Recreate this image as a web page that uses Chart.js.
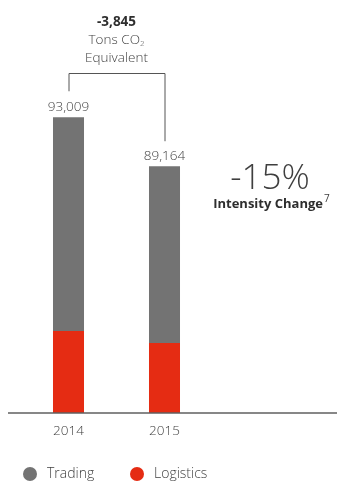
<!DOCTYPE html>
<html>
<head>
<meta charset="utf-8">
<script src="https://cdn.jsdelivr.net/npm/chart.js@4"></script>
<style>
  body { margin: 0; background: #fff; }
  canvas { display: block; }
</style>
</head>
<body>
<canvas id="co2Chart" width="337" height="482"></canvas>
<script>
// values (segment sizes)
const years = ['2014', '2015'];
const logistics = [25800, 22000];
const trading = [67200, 55600];
const totalLabels = ['93,009', '89,164'];
const changeLabel = '-3,845';
const intensityLabel = '-15%';

const GREY = '#737373';
const RED = '#e52c13';
const TEXT = '#3f3f3f';
const FONT = '"Open Sans", "Noto Sans", sans-serif';

// draws the axis line, totals, bracket, side notes and legend
const annotations = {
    id: 'annotations',
    afterDraw(chart) {
        const ctx = chart.ctx;
        const yScale = chart.scales.y;
        const base = yScale.getPixelForValue(0);
        const bars = chart.getDatasetMeta(1).data;

        ctx.save();

        // baseline
        ctx.strokeStyle = '#5f5f5f';
        ctx.lineWidth = 1.5;
        ctx.beginPath();
        ctx.moveTo(8, base);
        ctx.lineTo(337, base);
        ctx.stroke();

        // totals over bars
        ctx.fillStyle = TEXT;
        ctx.font = '300 13.5px ' + FONT;
        ctx.textAlign = 'center';
        ctx.textBaseline = 'middle';
        bars.forEach((bar, i) => {
            ctx.fillText(totalLabels[i], bar.x, bar.y - 10);
        });

        // bracket between the two years
        const left = bars[0], right = bars[1];
        ctx.strokeStyle = '#555';
        ctx.lineWidth = 1;
        ctx.beginPath();
        ctx.moveTo(left.x + 0.5, left.y - 26);
        ctx.lineTo(left.x + 0.5, 73.5);
        ctx.lineTo(right.x + 0.5, 73.5);
        ctx.lineTo(right.x + 0.5, right.y - 25);
        ctx.stroke();

        // change note
        const midX = (left.x + right.x) / 2;
        ctx.fillStyle = '#2e2e2e';
        ctx.font = 'bold 13.5px ' + FONT;
        ctx.fillText(changeLabel, midX, 22);
        ctx.fillStyle = TEXT;
        const tons = 'Tons CO';
        ctx.font = '300 13.5px ' + FONT;
        const w1 = ctx.measureText(tons).width;
        ctx.font = '300 8px ' + FONT;
        const w2 = ctx.measureText('2').width;
        const startX = midX - (w1 + w2) / 2;
        ctx.textAlign = 'left';
        ctx.font = '300 13.5px ' + FONT;
        ctx.fillText(tons, startX, 40);
        ctx.font = '300 8px ' + FONT;
        ctx.fillText('2', startX + w1, 44);
        ctx.textAlign = 'center';
        ctx.font = '300 13.5px ' + FONT;
        ctx.fillText('Equivalent', midX, 58);

        // intensity note
        ctx.font = '300 35px ' + FONT;
        ctx.fillText(intensityLabel, 270, 179);
        ctx.font = 'bold 13px ' + FONT;
        ctx.fillStyle = '#2e2e2e';
        ctx.textAlign = 'right';
        ctx.fillText('Intensity Change', 323, 204);
        ctx.font = '10px ' + FONT;
        ctx.textAlign = 'left';
        ctx.fillStyle = TEXT;
        ctx.fillText('7', 324, 199);

        // legend
        const items = [
            { label: 'Trading', color: GREY, x: 30 },
            { label: 'Logistics', color: RED, x: 137 }
        ];
        ctx.font = '300 14px ' + FONT;
        items.forEach(item => {
            ctx.fillStyle = item.color;
            ctx.beginPath();
            ctx.arc(item.x, 474, 7, 0, Math.PI * 2);
            ctx.fill();
            ctx.fillStyle = TEXT;
            ctx.fillText(item.label, item.x + 17, 474);
        });

        ctx.restore();
    }
};

new Chart(document.getElementById('co2Chart'), {
    type: 'bar',
    data: {
        labels: years,
        datasets: [
            {
                label: 'Logistics',
                data: logistics,
                backgroundColor: RED
            },
            {
                label: 'Trading',
                data: trading,
                backgroundColor: GREY
            }
        ]
    },
    options: {
        responsive: false,
        animation: false,
        layout: {
            padding: { top: 95, left: 20.5, right: 124.5, bottom: 0 }
        },
        datasets: {
            bar: { categoryPercentage: 1, barPercentage: 0.323 }
        },
        scales: {
            x: {
                stacked: true,
                border: { display: false },
                grid: { display: false, drawTicks: false },
                ticks: {
                    color: TEXT,
                    padding: 10,
                    font: { family: FONT, size: 13.5, weight: 300 }
                },
                afterFit: scale => { scale.height = 69; }
            },
            y: {
                stacked: true,
                display: false,
                min: 0,
                max: 100000
            }
        },
        plugins: {
            legend: { display: false },
            tooltip: { enabled: false }
        }
    },
    plugins: [annotations]
});
</script>
</body>
</html>
